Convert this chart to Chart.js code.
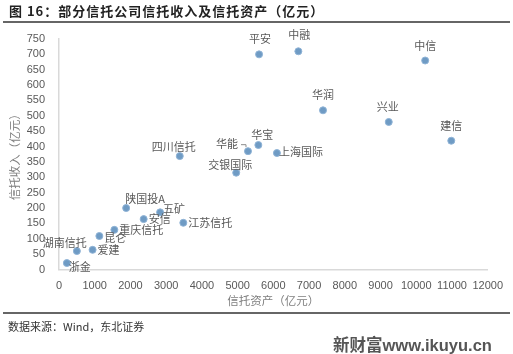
<!DOCTYPE html>
<html>
<head>
<meta charset="utf-8">
<script src="https://cdn.jsdelivr.net/npm/chart.js@4/dist/chart.umd.min.js"></script>
<style>
  body { margin: 0; background: #fff; }
  #wrap { position: relative; width: 513px; height: 354px; overflow: hidden; }
  #title { position: absolute; left: 9px; top: 1px; font: bold 13px "Noto Sans CJK SC"; letter-spacing: 1px; color: #222; }
  .rule { position: absolute; left: 3px; width: 507px; height: 2px; background: #666; }
  #source { position: absolute; left: 8px; top: 318px; font: 11px "Noto Sans CJK SC"; color: #333; }
  #mark { position: absolute; left: 333px; top: 332px; font: bold 16.5px "Liberation Sans", "Noto Sans CJK SC"; color: #555; }
</style>
</head>
<body>
<div id="wrap">
  <div id="title">图 16：部分信托公司信托收入及信托资产（亿元）</div>
  <div class="rule" style="top:21px"></div>
  <canvas id="chart"></canvas>
  <div class="rule" style="top:312px"></div>
  <div id="source">数据来源：Wind，东北证券</div>
  <div id="mark">新财富www.ikuyu.cn</div>
</div>
<script>
"use strict";
// 公司名称
var names = ["平安", "中融", "中信", "华润", "兴业", "建信", "华宝", "华能", "上海国际", "交银国际",
             "四川信托", "陕国投A", "五矿", "安信", "江苏信托", "重庆信托", "昆仑", "爱建", "湖南信托", "浙金"];
// 信托资产（亿元）
var assets = [5600, 6700, 10250, 7390, 9230, 10980, 5580, 5290, 6100, 4960,
              3380, 1880, 2830, 2370, 3480, 1550, 1130, 940, 500, 220];
// 信托收入（亿元）
var income = [700, 710, 680, 518, 480, 419, 405, 385, 379, 315,
              369, 200, 186, 164, 152, 129, 109, 64, 60, 21];

// label placement (dx, dy from the point)
var labelPos = [[1, -16], [1, -16], [0, -15], [0, -15], [-1, -15], [0, -15], [4, -10], [-21, -7], [24, -1], [-6, -8],
                [-6, -9], [19, -9], [14, -4], [16, 0], [27, 0], [27, 0], [16, 2], [16, 0], [-12, -8], [13, 4]];

var points = [];
for (var i = 0; i < names.length; i++) {
    points.push({x: assets[i], y: income[i]});
}

var labelPlugin = {
    id: 'pointLabels',
    afterDatasetsDraw: function (chart) {
        var ctx = chart.ctx;
        var meta = chart.getDatasetMeta(0);
        ctx.save();
        ctx.font = '11px "Noto Sans CJK SC"';
        ctx.fillStyle = '#595959';
        ctx.textAlign = 'center';
        ctx.textBaseline = 'middle';
        for (var i = 0; i < meta.data.length; i++) {
            var el = meta.data[i];
            ctx.fillText(names[i], el.x + labelPos[i][0], el.y + labelPos[i][1]);
        }
        // leader for 华能
        var hn = meta.data[7];
        ctx.strokeStyle = '#8c8c8c';
        ctx.lineWidth = 1;
        ctx.beginPath();
        ctx.moveTo(hn.x - 7, hn.y - 6.5);
        ctx.lineTo(hn.x - 2, hn.y - 6.5);
        ctx.lineTo(hn.x - 2, hn.y - 4);
        ctx.stroke();
        ctx.restore();
    }
};

function plain(v) { return String(v); }

new Chart(document.getElementById("chart").getContext("2d"), {
    type: 'scatter',
    data: {
        datasets: [{
            data: points,
            backgroundColor: '#6f9bc4',
            borderColor: '#8fb3d6',
            borderWidth: 1,
            pointRadius: 3.5
        }]
    },
    options: {
        responsive: true,
        maintainAspectRatio: false,
        animation: false,
        plugins: { legend: { display: false }, tooltip: { enabled: false } },
        layout: { padding: { top: 39, right: 24, bottom: 46, left: 8 } },
        scales: {
            x: {
                type: 'linear',
                min: 0, max: 12000,
                ticks: { stepSize: 1000, autoSkip: false, callback: plain, padding: 10, color: '#595959', font: { size: 11, family: 'Liberation Sans' }, maxRotation: 0 },
                grid: { display: false, drawTicks: false },
                border: { display: true, color: '#d9d9d9', width: 1.5 },
                title: { display: true, text: '信托资产（亿元）', color: '#7f7f7f', font: { size: 11.5, family: 'Noto Sans CJK SC' }, padding: { top: 0, bottom: 0 } },
                afterFit: function (s) { s.height = 38.5; }
            },
            y: {
                min: 0, max: 750,
                ticks: { stepSize: 50, autoSkip: false, callback: plain, padding: 14, color: '#595959', font: { size: 11, family: 'Liberation Sans' } },
                grid: { display: false, drawTicks: false },
                border: { display: true, color: '#d9d9d9', width: 1.5 },
                title: { display: true, text: '信托收入（亿元）', color: '#7f7f7f', font: { size: 11.5, family: 'Noto Sans CJK SC' }, padding: 0 },
                afterFit: function (s) { s.width = 51; }
            }
        }
    },
    plugins: [labelPlugin]
});
</script>
</body>
</html>
